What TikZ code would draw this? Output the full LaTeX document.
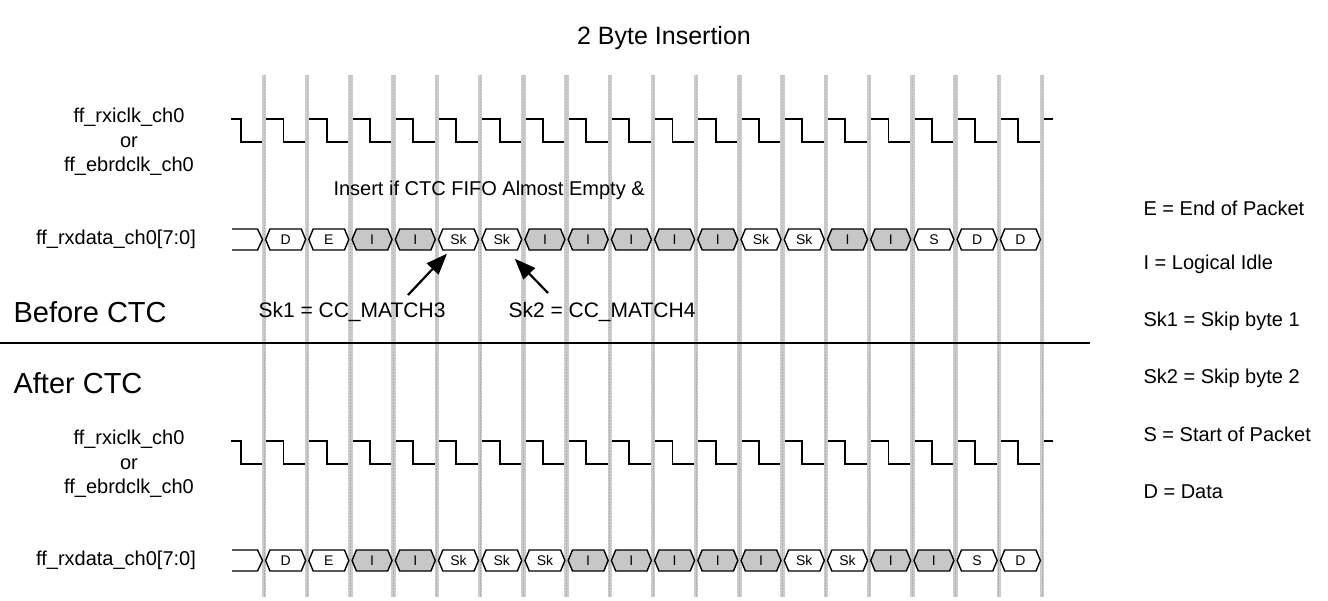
\documentclass[tikz,border=0pt]{standalone}
\usepackage{fontspec}
\setmainfont{Liberation Sans}
\usetikzlibrary{arrows.meta,shapes.symbols,positioning}
\colorlet{idlegray}{black!22}
\colorlet{gridgray}{black!20}
\tikzset{cell/.style = {signal, signal to=east and west, signal pointer angle=135,
                        draw=black, line width=1.4pt, minimum width=40pt,
                        minimum height=21pt, inner sep=0pt,
                        font=\fontsize{14}{14}\selectfont}}

\begin{document}
\begin{tikzpicture}[x=1pt, y=-1pt, clk/.style = {line width=1.8pt}, gridline/.style = {draw=gridgray, line width=4.5pt},
  lbl/.style = {font=\fontsize{20}{24.5}\selectfont, align=center}, big/.style = {font=\fontsize{29}{32}\selectfont, anchor=west},
  arw/.style = {line width=2.2pt, -{Triangle[length=21pt, width=16pt]}}]
\useasboundingbox (0,0) rectangle (1328,601);
\node[font=\fontsize{25}{30}\selectfont] (title) at (664,38) {2 Byte Insertion};
% clocks
\foreach \y in {142,464}
  \draw[clk] (231,\y-23) -- (241,\y-23) -- (241,\y) foreach \k in {0,...,17} { -- (264+43.22*\k,\y) -- ++(0,-23) -- ++(19.5,0) -- ++(0,23) } -- (1042,\y) -- ++(0,-23) -- ++(11,0);
% grid
\foreach \k in {0,...,18} {
  \draw[gridline] (264+43.22*\k,75) -- (264+43.22*\k,597);
  \draw[black!32, line width=0.8pt, dash pattern=on 1.5pt off 1.5pt] (264+43.22*\k,75) -- (264+43.22*\k,597);
}
% buses
\foreach \y in {239.5,560.5}
  \draw[line width=1.4pt] (232,\y-10.5) -- (257.5,\y-10.5) -- (262.5,\y) -- (257.5,\y+10.5) -- (232,\y+10.5);
\foreach \t/\f [count=\i] in {D/white,E/white,I/idlegray,I/idlegray,Sk/white,Sk/white,I/idlegray,I/idlegray,I/idlegray,I/idlegray,I/idlegray,Sk/white,Sk/white,I/idlegray,I/idlegray,S/white,D/white,D/white}
  \node[cell, fill=\f] (pre\i) at (242.4+43.22*\i,239.5) {\t};
\foreach \t/\f [count=\i] in {D/white,E/white,I/idlegray,I/idlegray,Sk/white,Sk/white,Sk/white,I/idlegray,I/idlegray,I/idlegray,I/idlegray,I/idlegray,Sk/white,Sk/white,I/idlegray,I/idlegray,S/white,D/white}
  \node[cell, fill=\f] (post\i) at (242.4+43.22*\i,560.5) {\t};
% labels
\node[lbl] (clkpre) at (129,142) {ff\_rxiclk\_ch0\\or\\ff\_ebrdclk\_ch0};
\node[lbl] (datapre) at (116,239.5) {ff\_rxdata\_ch0[7:0]};
\node[lbl] (clkpost) at (129,464) {ff\_rxiclk\_ch0\\or\\ff\_ebrdclk\_ch0};
\node[lbl] (datapost) at (116,560.5) {ff\_rxdata\_ch0[7:0]};
\node[lbl, anchor=west] (insert) at (330,190) {Insert if CTC FIFO Almost Empty \&};
\node[big] (before) at (10,312) {Before CTC};
\node[big] (after) at (10,383) {After CTC};
\node[lbl, anchor=west, font=\fontsize{21}{24}\selectfont] (match3) at (255,312) {Sk1 = CC\_MATCH3};
\node[lbl, anchor=west, font=\fontsize{21}{24}\selectfont] (match4) at (505,312) {Sk2 = CC\_MATCH4};
\coordinate (tail3) at (408,295);
\coordinate (tail4) at (548,293);
\draw[arw] (tail3) -- ([xshift=-11.5pt, yshift=-3pt]pre5.south);
\draw[arw] (tail4) -- ([xshift=13pt, yshift=-8pt]pre6.south);
\coordinate (sepL) at (0,343);
\coordinate (sepR) at (1090,343);
\draw[line width=1.8pt] (sepL) -- (sepR);
% legend
\foreach \t [count=\i] in {E = End of Packet, I = Logical Idle, Sk1 = Skip byte 1, Sk2 = Skip byte 2, S = Start of Packet, D = Data}
  \node[lbl, anchor=west] (key\i) at (1140,208+56.7*\i-56.7) {\t};
\end{tikzpicture}
\end{document}
